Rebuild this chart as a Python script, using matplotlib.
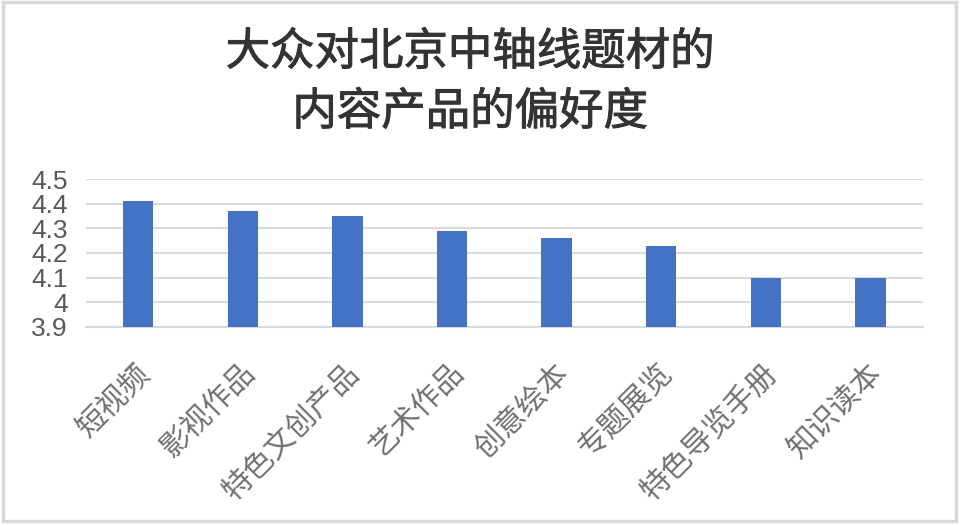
import matplotlib
matplotlib.use("Agg")
import matplotlib.pyplot as plt
import matplotlib.transforms as mtransforms
import matplotlib.patheffects as pe
from matplotlib.patches import Rectangle

plt.rcParams['font.family'] = ['Noto Sans CJK SC', 'DejaVu Sans']

# 数据
categories = ["短视频", "影视作品", "特色文创产品", "艺术作品",
              "创意绘本", "专题展览", "特色导览手册", "知识读本"]
scores = [4.41, 4.37, 4.35, 4.29, 4.26, 4.23, 4.10, 4.10]
yticks = [3.9, 4.0, 4.1, 4.2, 4.3, 4.4, 4.5]
ytick_labels = ["3.9", "4", "4.1", "4.2", "4.3", "4.4", "4.5"]
title_lines = ["大众对北京中轴线题材的", "内容产品的偏好度"]

fig = plt.figure(figsize=(9.6, 5.25), dpi=100)
ax = fig.add_axes([0.0896, 0.3777, 0.8715, 0.2808])

x = range(len(categories))
ax.bar(x, scores, width=0.29, color="#4472C4", zorder=3)

ax.set_ylim(3.9, 4.5)
ax.set_xlim(-0.5, len(categories) - 0.5)
ax.set_yticks(yticks)
ax.set_yticklabels(ytick_labels, family=['Liberation Sans', 'DejaVu Sans'],
                   fontsize=19, color="#595959")
ax.grid(axis="y", color="#d9d9d9", linewidth=1.5, zorder=0)
ax.tick_params(axis="y", length=0, pad=13)
for s in ["top", "right", "left"]:
    ax.spines[s].set_visible(False)
ax.spines["bottom"].set_color("#d9d9d9")
ax.spines["bottom"].set_linewidth(1.5)

ax.set_xticks(list(x))
ax.set_xticklabels(categories, rotation=45, ha="right", va="center",
                   rotation_mode="anchor", fontsize=21.5, color="#707070")
ax.tick_params(axis="x", length=0, pad=30)
shift = mtransforms.ScaledTranslation(7 / 100, 0, fig.dpi_scale_trans)
for lbl in ax.get_xticklabels():
    lbl.set_transform(lbl.get_transform() + shift)

# 标题两行
for yy, line in zip([0.901, 0.787], title_lines):
    fig.text(0.49, yy, line, ha="center", va="center", fontsize=32,
             color="#333333",
             path_effects=[pe.withStroke(linewidth=0.7, foreground="#333333")])

# 外框
fig.patches.append(Rectangle((0.003, 0.008), 0.993, 0.988, transform=fig.transFigure,
                             fill=False, edgecolor="#d9d9d9", linewidth=2.5))

fig.savefig("out.png", dpi=100, facecolor="white")
